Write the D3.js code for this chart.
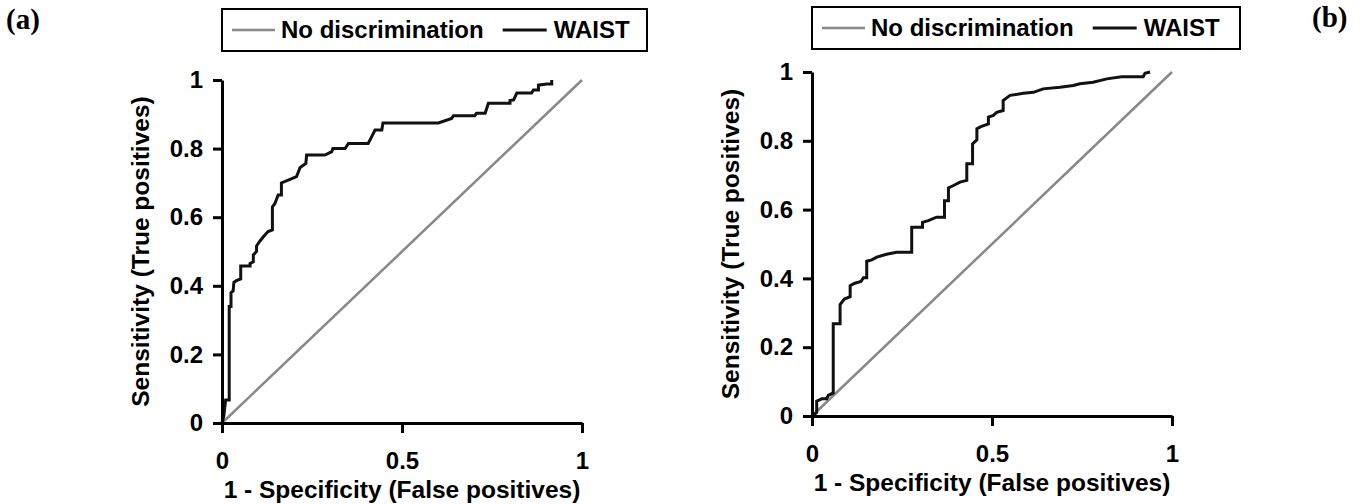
<!DOCTYPE html>
<html lang="en">
<head>
    <meta charset="utf-8">
    <style type="text/css">
        body { margin: 0; background: #fff; }
        svg { display: block; }
        text { font-family: "Liberation Sans", Arial, sans-serif; font-weight: bold; fill: #000; }
        .axis path, .axis line { stroke: #000; stroke-width: 3px; }
        .axis text { font-size: 24px; }
        .panel-label { font-family: "Liberation Serif", "Times New Roman", serif; font-size: 29px; }
        .diag { stroke: #888; stroke-width: 2.5px; fill: none; }
        .roc { stroke: #111; stroke-width: 3px; fill: none; stroke-linejoin: miter; }
    </style>
</head>
<body>
<svg width="1362" height="504"></svg>

<script src="https://d3js.org/d3.v7.min.js" type="text/javascript"></script>

<script type="text/javascript">
    // tick values and labels
    var xTicks = [0, 0.5, 1];
    var yTicks = [0, 0.2, 0.4, 0.6, 0.8, 1];
    var xTitle = "1 - Specificity (False positives)";
    var yTitle = "Sensitivity (True positives)";
    var legendNames = ["No discrimination", "WAIST"];
    var diagonal = [[0, 0], [1, 1]];

    // panel (a) WAIST ROC
    var aFpr = [0, 0.005, 0.01, 0.02, 0.02, 0.025, 0.025, 0.031, 0.033, 0.04, 0.052, 0.052, 0.078, 0.078, 0.087,
        0.087, 0.096, 0.096, 0.105, 0.115, 0.128, 0.14, 0.14, 0.147, 0.156, 0.165, 0.165, 0.184, 0.207, 0.217,
        0.233, 0.235, 0.286, 0.305, 0.308, 0.342, 0.351, 0.406, 0.416, 0.425, 0.444, 0.447, 0.601, 0.638, 0.643,
        0.702, 0.707, 0.731, 0.74, 0.80, 0.80, 0.81, 0.819, 0.86, 0.865, 0.879, 0.879, 0.902, 0.916, 0.916];
    var aTpr = [0, 0.02, 0.067, 0.067, 0.34, 0.34, 0.38, 0.385, 0.41, 0.415, 0.42, 0.458, 0.458, 0.465, 0.47,
        0.49, 0.5, 0.516, 0.53, 0.543, 0.558, 0.563, 0.63, 0.64, 0.665, 0.665, 0.70, 0.708, 0.718, 0.745,
        0.757, 0.781, 0.781, 0.791, 0.80, 0.80, 0.815, 0.815, 0.835, 0.854, 0.854, 0.875, 0.875, 0.888, 0.896,
        0.896, 0.903, 0.903, 0.932, 0.932, 0.94, 0.942, 0.962, 0.962, 0.971, 0.971, 0.985, 0.988, 0.988, 1.0];

    // panel (b) WAIST ROC
    var bFpr = [0, 0.013, 0.013, 0.027, 0.041, 0.045, 0.059, 0.059, 0.078, 0.078, 0.09, 0.106, 0.106, 0.119,
        0.136, 0.143, 0.152, 0.152, 0.166, 0.18, 0.207, 0.235, 0.277, 0.277, 0.307, 0.307, 0.323, 0.346, 0.368,
        0.368, 0.379, 0.379, 0.393, 0.411, 0.43, 0.43, 0.446, 0.446, 0.458, 0.458, 0.471, 0.49, 0.49, 0.504,
        0.513, 0.531, 0.531, 0.55, 0.587, 0.615, 0.642, 0.689, 0.726, 0.744, 0.781, 0.819, 0.86, 0.92, 0.925, 0.939];
    var bTpr = [0, 0.01, 0.043, 0.05, 0.05, 0.06, 0.067, 0.268, 0.268, 0.324, 0.34, 0.347, 0.379, 0.386,
        0.391, 0.402, 0.402, 0.45, 0.454, 0.462, 0.47, 0.476, 0.476, 0.549, 0.549, 0.563, 0.568, 0.578, 0.578,
        0.626, 0.626, 0.663, 0.67, 0.68, 0.685, 0.733, 0.733, 0.791, 0.803, 0.835, 0.842, 0.849, 0.869, 0.874,
        0.883, 0.888, 0.917, 0.932, 0.938, 0.941, 0.951, 0.956, 0.961, 0.966, 0.97, 0.98, 0.986, 0.986, 0.996, 1.0];

    var panels = [
        {label: "(a)", lx: 6, ly: 29, left: 222, top: 80, width: 360, height: 343, fpr: aFpr, tpr: aTpr,
            box: {x: 222, y: 9, w: 425, h: 42}, yTitleX: 140},
        {label: "(b)", lx: 1312, ly: 27, left: 812, top: 72, width: 360, height: 344, fpr: bFpr, tpr: bTpr,
            box: {x: 812, y: 7, w: 428, h: 42}, yTitleX: 730}
    ];

    var svg = d3.select("svg");

    panels.forEach(drawPanel);

    function drawPanel(p) {
        var x = d3.scaleLinear().domain([0, 1]).range([p.left, p.left + p.width]);
        var y = d3.scaleLinear().domain([0, 1]).range([p.top + p.height, p.top]);
        var line = d3.line().x(function (d) {return x(d[0]);}).y(function (d) {return y(d[1]);});
        var pts = p.fpr.map(function (v, i) {return [v, p.tpr[i]];});

        svg.append("text")
            .attr("class", "panel-label")
            .attr("x", p.lx).attr("y", p.ly)
            .text(p.label);

        svg.append("path").datum(diagonal).attr("class", "diag").attr("d", line);
        svg.append("path").datum(pts).attr("class", "roc").attr("d", line);

        svg.append("g")
            .attr("class", "axis")
            .attr("transform", "translate(0," + y(0) + ")")
            .call(d3.axisBottom(x).tickValues(xTicks).tickFormat(d3.format("~g"))
                .tickSize(10).tickSizeOuter(0).tickPadding(19));

        svg.append("g")
            .attr("class", "axis")
            .attr("transform", "translate(" + x(0) + ",0)")
            .call(d3.axisLeft(y).tickValues(yTicks).tickFormat(d3.format("~g"))
                .tickSize(9).tickSizeOuter(0).tickPadding(10));

        svg.selectAll(".axis").attr("font-family", null);

        svg.append("text")
            .attr("x", x(0.5)).attr("y", y(0) + 75)
            .attr("text-anchor", "middle")
            .style("font-size", "24.5px")
            .text(xTitle);

        svg.append("text")
            .attr("transform", "translate(" + p.yTitleX + "," + y(0.5) + ") rotate(-90)")
            .attr("text-anchor", "middle")
            .attr("dy", "0.35em")
            .style("font-size", "24.5px")
            .text(yTitle);

        // legend
        var b = p.box, cy = b.y + b.h / 2;
        var lg = svg.append("g");
        lg.append("rect")
            .attr("x", b.x).attr("y", b.y).attr("width", b.w).attr("height", b.h)
            .attr("fill", "none").attr("stroke", "#000").attr("stroke-width", 2);
        lg.append("line")
            .attr("x1", b.x + 10).attr("x2", b.x + 53).attr("y1", cy).attr("y2", cy)
            .attr("class", "diag");
        var t1 = lg.append("text")
            .attr("x", b.x + 59).attr("y", cy).attr("dy", "0.35em")
            .style("font-size", "24px")
            .text(legendNames[0]);
        var x2 = b.x + 59 + t1.node().getComputedTextLength() + 19;
        lg.append("line")
            .attr("x1", x2).attr("x2", x2 + 44).attr("y1", cy).attr("y2", cy)
            .attr("class", "roc");
        lg.append("text")
            .attr("x", x2 + 51).attr("y", cy).attr("dy", "0.35em")
            .style("font-size", "24px")
            .text(legendNames[1]);
    }
</script>

</body>
</html>
